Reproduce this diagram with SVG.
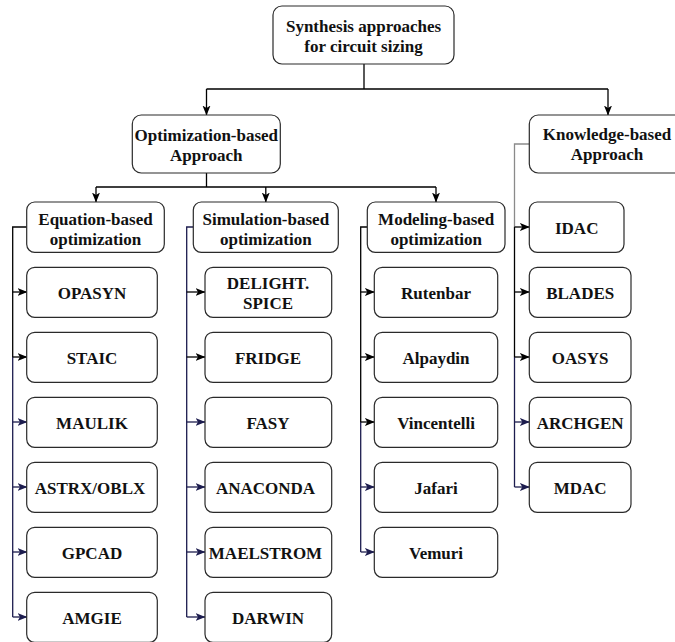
<svg xmlns="http://www.w3.org/2000/svg" width="675" height="642" viewBox="0 0 675 642">
<style>
.box{fill:#fff;stroke:#2a2a2a;stroke-width:1.2}
.t{font-family:"Liberation Serif","Times New Roman",serif;font-weight:bold;font-size:17px;fill:#111;text-anchor:middle}
.k{fill:none;stroke:#000;stroke-width:1.3}
.n{fill:none;stroke:#1c1c4e;stroke-width:1.3}
.g{fill:none;stroke:#8a8a8a;stroke-width:1.3}
.ak{fill:none;stroke:#000;stroke-width:1.3;marker-end:url(#mk)}
.an{fill:none;stroke:#1c1c4e;stroke-width:1.3;marker-end:url(#mn)}
</style>
<defs>
<marker id="mk" markerUnits="userSpaceOnUse" markerWidth="10" markerHeight="10" viewBox="0 0 10 8" refX="9.5" refY="4" orient="auto"><path d="M0,0 L10,4 L0,8 L2.5,4 z" fill="#000"/></marker>
<marker id="mn" markerUnits="userSpaceOnUse" markerWidth="10" markerHeight="10" viewBox="0 0 10 8" refX="9.5" refY="4" orient="auto"><path d="M0,0 L10,4 L0,8 L2.5,4 z" fill="#1c1c4e"/></marker>
</defs>
<rect width="675" height="642" fill="#fff"/>
<g id="connectors">
<path class="k" d="M364,64 V89 M206.5,89 H608 M206.5,173 V187 M96,187 H436"/>
<path class="ak" d="M206.5,89 V115"/>
<path class="ak" d="M608,89 V115"/>
<path class="ak" d="M96,187 V202"/>
<path class="ak" d="M265.8,187 V202"/>
<path class="ak" d="M436,187 V202"/>
<!-- equation trunk -->
<path class="k" d="M27,227 H12.7 V357"/>
<path class="n" d="M12.7,357 V617"/>
<path class="ak" d="M12.7,292 H27"/>
<path class="ak" d="M12.7,357 H27"/>
<path class="an" d="M12.7,422 H27"/>
<path class="an" d="M12.7,487 H27"/>
<path class="an" d="M12.7,552 H27"/>
<path class="an" d="M12.7,617 H27"/>
<!-- simulation trunk -->
<path class="n" d="M193,227 H186.7 V617"/>
<path class="ak" d="M186.7,292 H205"/>
<path class="ak" d="M186.7,357 H205"/>
<path class="an" d="M186.7,422 H205"/>
<path class="an" d="M186.7,487 H205"/>
<path class="an" d="M186.7,552 H205"/>
<path class="an" d="M186.7,617 H205"/>
<!-- modeling trunk -->
<path class="k" d="M367,227 H360.7 V422"/>
<path class="n" d="M360.7,422 V552"/>
<path class="ak" d="M360.7,292 H374.3"/>
<path class="ak" d="M360.7,357 H374.3"/>
<path class="ak" d="M360.7,422 H374.3"/>
<path class="an" d="M360.7,487 H374.3"/>
<path class="an" d="M360.7,552 H374.3"/>
<!-- knowledge trunk -->
<path class="g" d="M529.3,144 H514.5 V227"/>
<path class="k" d="M514.5,227 V357"/>
<path class="n" d="M514.5,357 V487"/>
<path class="ak" d="M514.5,227 H529.3"/>
<path class="ak" d="M514.5,292 H529.3"/>
<path class="ak" d="M514.5,357 H529.3"/>
<path class="an" d="M514.5,422 H529.3"/>
<path class="an" d="M514.5,487 H529.3"/>
</g>
<g id="root"><rect class="box" x="273" y="6" width="181" height="58" rx="9"/><text class="t" x="363.5" y="31.5">Synthesis approaches</text><text class="t" x="363.5" y="52">for circuit sizing</text></g>
<g id="optimization"><rect class="box" x="132.3" y="115" width="148" height="58" rx="9"/><text class="t" x="206.3" y="140.5">Optimization-based</text><text class="t" x="206.3" y="160.5">Approach</text></g>
<g id="knowledge"><rect class="box" x="529.3" y="115" width="156" height="58" rx="9"/><text class="t" x="607" y="139.5">Knowledge-based</text><text class="t" x="607" y="159.5">Approach</text></g>
<g id="equation"><rect class="box" x="26.7" y="202" width="137.6" height="50.3" rx="8"/><text class="t" x="95.5" y="225">Equation-based</text><text class="t" x="95.5" y="244.5">optimization</text></g>
<g id="simulation"><rect class="box" x="193.3" y="202" width="145" height="50.3" rx="8"/><text class="t" x="265.8" y="225">Simulation-based</text><text class="t" x="265.8" y="244.5">optimization</text></g>
<g id="modeling"><rect class="box" x="367.3" y="202" width="137.7" height="50.3" rx="8"/><text class="t" x="436.2" y="225">Modeling-based</text><text class="t" x="436.2" y="244.5">optimization</text></g>
<g id="opasyn"><rect class="box" x="26.7" y="267.3" width="130.6" height="50" rx="8"/><text class="t" x="92" y="299">OPASYN</text></g>
<g id="staic"><rect class="box" x="26.7" y="332.3" width="130.6" height="50" rx="8"/><text class="t" x="92" y="364">STAIC</text></g>
<g id="maulik"><rect class="box" x="26.7" y="397.3" width="130.6" height="50" rx="8"/><text class="t" x="92" y="429">MAULIK</text></g>
<g id="astrx"><rect class="box" x="26.7" y="462.3" width="130.6" height="50" rx="8"/><text class="t" x="90" y="494">ASTRX/OBLX</text></g>
<g id="gpcad"><rect class="box" x="26.7" y="527.3" width="130.6" height="50" rx="8"/><text class="t" x="92" y="559">GPCAD</text></g>
<g id="amgie"><rect class="box" x="26.7" y="592.3" width="130.6" height="50" rx="8"/><text class="t" x="92" y="624">AMGIE</text></g>
<g id="delight"><rect class="box" x="205" y="267.3" width="126.7" height="50" rx="8"/><text class="t" x="268" y="289">DELIGHT.</text><text class="t" x="268" y="309.3">SPICE</text></g>
<g id="fridge"><rect class="box" x="205" y="332.3" width="126.7" height="50" rx="8"/><text class="t" x="268" y="364">FRIDGE</text></g>
<g id="fasy"><rect class="box" x="205" y="397.3" width="126.7" height="50" rx="8"/><text class="t" x="268" y="429">FASY</text></g>
<g id="anaconda"><rect class="box" x="205" y="462.3" width="126.7" height="50" rx="8"/><text class="t" x="265.5" y="494">ANACONDA</text></g>
<g id="maelstrom"><rect class="box" x="205" y="527.3" width="126.7" height="50" rx="8"/><text class="t" x="265.5" y="559">MAELSTROM</text></g>
<g id="darwin"><rect class="box" x="205" y="592.3" width="126.7" height="50" rx="8"/><text class="t" x="268" y="624">DARWIN</text></g>
<g id="rutenbar"><rect class="box" x="374.3" y="267.3" width="123.4" height="50" rx="8"/><text class="t" x="436" y="299">Rutenbar</text></g>
<g id="alpaydin"><rect class="box" x="374.3" y="332.3" width="123.4" height="50" rx="8"/><text class="t" x="436" y="364">Alpaydin</text></g>
<g id="vincentelli"><rect class="box" x="374.3" y="397.3" width="123.4" height="50" rx="8"/><text class="t" x="436" y="429">Vincentelli</text></g>
<g id="jafari"><rect class="box" x="374.3" y="462.3" width="123.4" height="50" rx="8"/><text class="t" x="436" y="494">Jafari</text></g>
<g id="vemuri"><rect class="box" x="374.3" y="527.3" width="123.4" height="50" rx="8"/><text class="t" x="436" y="559">Vemuri</text></g>
<g id="idac"><rect class="box" x="529.3" y="202" width="94.7" height="50.3" rx="8"/><text class="t" x="576.7" y="233.5">IDAC</text></g>
<g id="blades"><rect class="box" x="529.3" y="267.3" width="101.7" height="50" rx="8"/><text class="t" x="580.2" y="299">BLADES</text></g>
<g id="oasys"><rect class="box" x="529.3" y="332.3" width="101.7" height="50" rx="8"/><text class="t" x="580.2" y="364">OASYS</text></g>
<g id="archgen"><rect class="box" x="529.3" y="397.3" width="101.7" height="50" rx="8"/><text class="t" x="580.2" y="429">ARCHGEN</text></g>
<g id="mdac"><rect class="box" x="529.3" y="462.3" width="101.7" height="50" rx="8"/><text class="t" x="580.2" y="494">MDAC</text></g>
</svg>
